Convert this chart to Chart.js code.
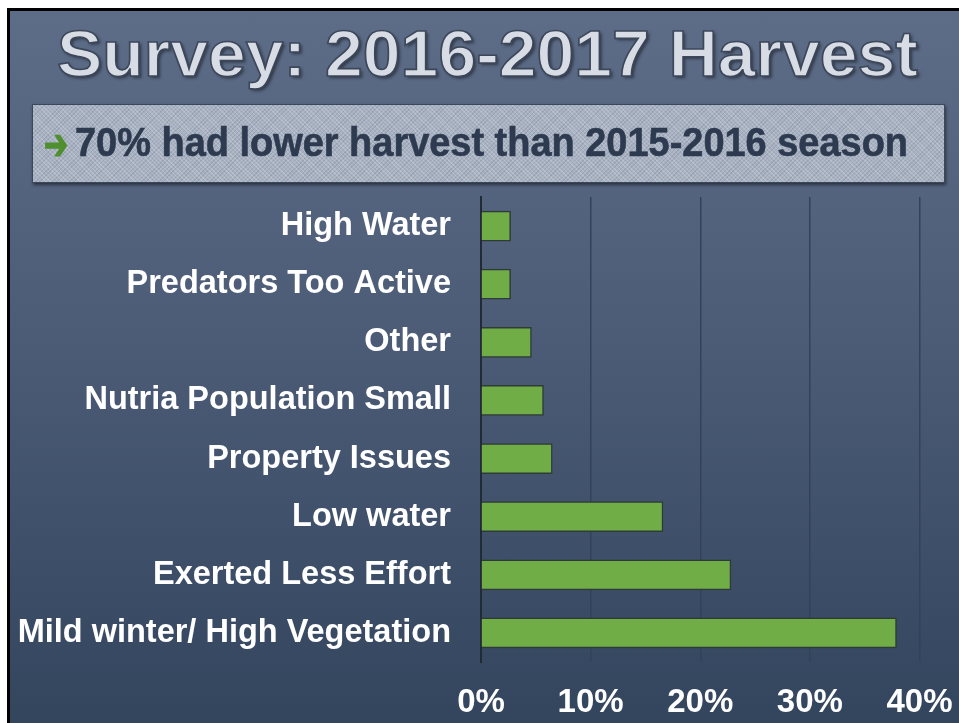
<!DOCTYPE html>
<html>
<head>
<meta charset="utf-8">
<script src="https://cdn.jsdelivr.net/npm/chart.js@4"></script>
<style>
  html, body { margin:0; padding:0; background:#ffffff; width:959px; height:723px; overflow:hidden; }
  #slide { position:absolute; left:7px; top:8px; width:960px; height:720px;
    border-left:3px solid #000; border-top:3px solid #000;
    background: linear-gradient(to bottom, #5d6c87 0%, #4c5c77 45%, #33445d 100%); }
  #chartWrap { position:absolute; left:0; top:0; width:959px; height:723px; }
  #title { position:absolute; left:57px; top:22px; font-family:'Liberation Sans', Arial, sans-serif;
    font-weight:bold; font-size:65px; line-height:64px; white-space:nowrap; color:#d7dce5;
    -webkit-text-stroke:1.6px #3c475a; text-shadow:2px 2px 3px rgba(0,0,0,0.45);
    transform-origin:left top; }
  #box { position:absolute; left:32px; top:104px; width:911px; height:77px;
    border:1px solid #3b475a; box-shadow:1px 2px 3px rgba(0,0,0,0.5);
    background-color:#a8b2c2;
    background-image: repeating-linear-gradient(45deg, rgba(255,255,255,0.18) 0 1px, transparent 1px 3px),
                      repeating-linear-gradient(-45deg, rgba(60,70,90,0.15) 0 1px, transparent 1px 3px); }
  #arrow { position:absolute; left:44px; top:121px; font-family:'DejaVu Sans', sans-serif; font-size:42px;
    line-height:48px; color:#4f8f2f; font-weight:bold; -webkit-text-stroke:1.5px #4f8f2f;
    transform-origin:left center; }
  #sub { position:absolute; left:75px; top:122px; font-family:'Liberation Sans', Arial, sans-serif;
    font-weight:bold; font-size:41px; line-height:40px; white-space:nowrap; color:#2d3a4f;
    -webkit-text-stroke:0.6px #2d3a4f; transform-origin:left top; }
</style>
</head>
<body>
<div id="slide"></div>
<div id="chartWrap"><canvas id="c" width="959" height="723"></canvas></div>
<div id="title">Survey: 2016-2017 Harvest</div>
<div id="box"></div>
<div id="arrow">➔</div>
<div id="sub">70% had lower harvest than 2015-2016 season</div>
<script>
const categories = ["High Water", "Predators Too Active", "Other", "Nutria Population Small",
  "Property Issues", "Low water", "Exerted Less Effort", "Mild winter/ High Vegetation"];
const percentValues = [2.7, 2.7, 4.6, 5.7, 6.5, 16.6, 22.8, 37.9];
const xTickValues = [0, 10, 20, 30, 40];

function fitWidth(id, target) {
  const el = document.getElementById(id);
  const w = el.getBoundingClientRect().width;
  el.style.transform = 'scaleX(' + (target / w) + ')';
}
fitWidth('title', 861);
fitWidth('sub', 833);
fitWidth('arrow', 24);

new Chart(document.getElementById('c'), {
  type: 'bar',
  data: {
    labels: categories,
    datasets: [{
      data: percentValues,
      backgroundColor: '#70ad47',
      borderColor: '#2e3b36',
      borderWidth: 1.5,
      borderSkipped: 'left',
      barThickness: 30
    }]
  },
  options: {
    indexAxis: 'y',
    responsive: false,
    animation: false,
    devicePixelRatio: 1,
    layout: { padding: { left: 0, right: 39.5, top: 197, bottom: 0 } },
    plugins: { legend: { display: false }, tooltip: { enabled: false }, title: { display: false } },
    scales: {
      x: {
        min: 0, max: 40,
        afterBuildTicks: s => { s.ticks = xTickValues.map(v => ({ value: v })); },
        afterFit: s => { s.height = 61; s.paddingLeft = 0; s.paddingRight = 0; },
        grid: { color: '#34415a', lineWidth: 1.5, drawTicks: false },
        border: { display: false },
        ticks: { color: '#ffffff', padding: 21, font: { family: "'Liberation Sans', Arial, sans-serif", size: 33, weight: 'bold' },
          callback: v => v + '%' }
      },
      y: {
        afterFit: s => { s.width = 481; s.paddingTop = 0; s.paddingBottom = 0; },
        grid: { display: false, drawTicks: false },
        border: { display: true, color: '#222a38', width: 2 },
        ticks: { color: '#ffffff', padding: 30, font: { family: "'Liberation Sans', Arial, sans-serif", size: 32.5, weight: 'bold' } }
      }
    }
  }
});
</script>
</body>
</html>
